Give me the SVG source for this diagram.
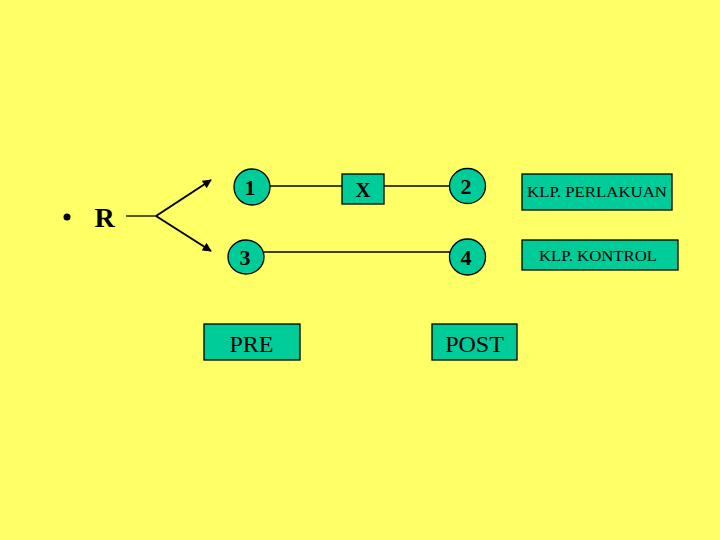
<svg xmlns="http://www.w3.org/2000/svg" width="720" height="540" viewBox="0 0 720 540">
<defs>
<marker id="ah" viewBox="0 0 10 10" refX="9" refY="5" markerWidth="10" markerHeight="9" orient="auto" markerUnits="userSpaceOnUse">
<path d="M0,0 L10,5 L0,10 z" fill="#000"/>
</marker>
<style>
.n{fill:#00CC99;stroke:#000;stroke-width:1.3}
.t{font-family:"Liberation Serif",serif;fill:#000;text-anchor:middle}
.d{font-size:22px;font-weight:bold}
.k{font-size:15px}
.p{font-size:24px}
.c{stroke:#000;stroke-width:1.3;fill:none}
.a{stroke:#000;stroke-width:2;fill:none}
</style>
</defs>
<rect width="720" height="540" fill="#FFFF66"/>
<g id="connectors">
<line class="c" x1="126" y1="216" x2="156" y2="216"/>
<line class="a" x1="156" y1="216" x2="211" y2="180" marker-end="url(#ah)"/>
<line class="a" x1="156" y1="216" x2="211" y2="251" marker-end="url(#ah)"/>
<line class="c" x1="270" y1="186" x2="342" y2="186"/>
<line class="c" x1="384" y1="186" x2="449" y2="186"/>
<line class="c" x1="264" y1="252" x2="451" y2="252"/>
</g>
<g id="R">
<circle cx="67" cy="217" r="3.5" fill="#000"/>
<text class="t" x="104.5" y="227" font-size="28" font-weight="bold">R</text>
</g>
<g id="n1"><ellipse class="n" cx="252" cy="187" rx="18" ry="18"/><text class="t d" x="250" y="195">1</text></g>
<g id="n3"><ellipse class="n" cx="246" cy="257" rx="18" ry="17"/><text class="t d" x="245" y="265">3</text></g>
<g id="nX"><rect class="n" x="342" y="174" width="42" height="30"/><text class="t" x="363" y="197" font-size="21" font-weight="bold">X</text></g>
<g id="n2"><ellipse class="n" cx="467.5" cy="186" rx="18" ry="17.5"/><text class="t d" x="466" y="194">2</text></g>
<g id="n4"><ellipse class="n" cx="467.5" cy="257" rx="18" ry="18"/><text class="t d" x="466" y="265">4</text></g>
<g id="perlakuan"><rect class="n" x="522" y="174" width="150" height="36"/><text class="t k" x="597" y="197" textLength="140" lengthAdjust="spacingAndGlyphs">KLP. PERLAKUAN</text></g>
<g id="kontrol"><rect class="n" x="522" y="240" width="156" height="30"/><text class="t k" x="598" y="261" textLength="118" lengthAdjust="spacingAndGlyphs">KLP. KONTROL</text></g>
<g id="pre"><rect class="n" x="204" y="324" width="96" height="36"/><text class="t p" x="251.5" y="352">PRE</text></g>
<g id="post"><rect class="n" x="432" y="324" width="85" height="36"/><text class="t p" x="474.5" y="352">POST</text></g>
</svg>
